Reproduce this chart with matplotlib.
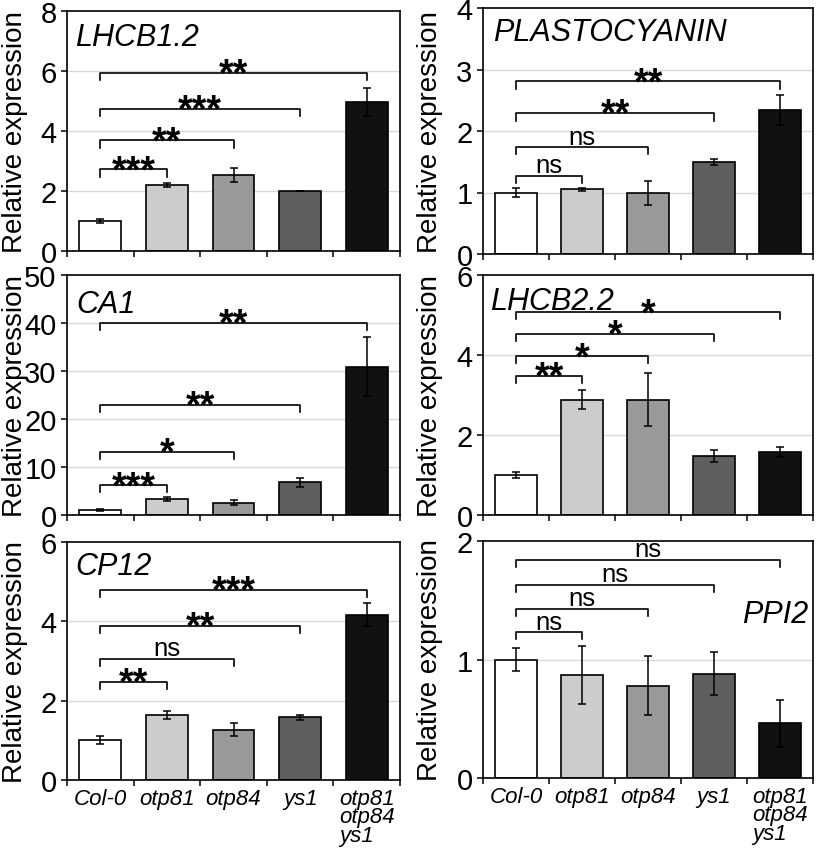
"""Relative expression of photosynthesis genes in otp81 / otp84 / ys1 mutants."""

# %% Imports
import matplotlib.pyplot as plt
import numpy as np

plt.rcParams["font.family"] = ["Liberation Sans", "DejaVu Sans"]

# %% Data
genotypes = ["Col-0", "otp81", "otp84", "ys1", "otp81\notp84\nys1"]
bar_colors = ["#ffffff", "#cccccc", "#999999", "#5f5f5f", "#111111"]

lhcb12_mean = [1.0, 2.2, 2.54, 2.0, 4.97]
lhcb12_err = [0.07, 0.08, 0.23, 0.01, 0.48]
lhcb12_sig = ["***", "**", "***", "**"]
lhcb12_bracket = [2.72, 3.69, 4.75, 5.95]

plasto_mean = [1.0, 1.05, 0.99, 1.5, 2.34]
plasto_err = [0.08, 0.02, 0.2, 0.05, 0.25]
plasto_sig = ["ns", "ns", "**", "**"]
plasto_bracket = [1.275, 1.74, 2.29, 2.81]

ca1_mean = [1.0, 3.3, 2.56, 6.8, 30.9]
ca1_err = [0.2, 0.35, 0.5, 1.0, 6.2]
ca1_sig = ["***", "*", "**", "**"]
ca1_bracket = [6.2, 13.2, 23.0, 40.1]

lhcb22_mean = [1.0, 2.88, 2.88, 1.48, 1.58]
lhcb22_err = [0.08, 0.24, 0.66, 0.15, 0.13]
lhcb22_sig = ["**", "*", "*", "*"]
lhcb22_bracket = [3.48, 3.97, 4.53, 5.07]

cp12_mean = [1.01, 1.64, 1.27, 1.58, 4.17]
cp12_err = [0.1, 0.09, 0.17, 0.06, 0.29]
cp12_sig = ["**", "ns", "**", "***"]
cp12_bracket = [2.48, 3.06, 3.88, 4.79]

ppi2_mean = [1.0, 0.87, 0.78, 0.88, 0.46]
ppi2_err = [0.1, 0.245, 0.25, 0.18, 0.2]
ppi2_sig = ["ns", "ns", "ns", "ns"]
ppi2_bracket = [1.23, 1.43, 1.63, 1.84]

# gene, mean, err, sig, bracket, ymax, ystep, axes rect in px (x0, y0, x1, y1), title pos
panels = [
    ("LHCB1.2", lhcb12_mean, lhcb12_err, lhcb12_sig, lhcb12_bracket, 8, 2,
     (67, 12, 400, 252), (0.024, 0.954, "left")),
    ("PLASTOCYANIN", plasto_mean, plasto_err, plasto_sig, plasto_bracket, 4, 1,
     (483, 9, 813, 255), (0.03, 0.963, "left")),
    ("CA1", ca1_mean, ca1_err, ca1_sig, ca1_bracket, 50, 10,
     (67, 276, 400, 516), (0.027, 0.94, "left")),
    ("LHCB2.2", lhcb22_mean, lhcb22_err, lhcb22_sig, lhcb22_bracket, 6, 2,
     (483, 276, 813, 516), (0.021, 0.954, "left")),
    ("CP12", cp12_mean, cp12_err, cp12_sig, cp12_bracket, 6, 2,
     (67, 543, 400, 781), (0.024, 0.962, "left")),
    ("PPI2", ppi2_mean, ppi2_err, ppi2_sig, ppi2_bracket, 2, 1,
     (483, 542, 813, 779), (0.985, 0.755, "right")),
]

# %% Figure
W, H = 817, 854
fig = plt.figure(figsize=(W / 100, H / 100), dpi=100)
x = np.arange(len(genotypes))

for i, (gene, mean, err, sig, bracket, ymax, ystep, rect, tpos) in enumerate(panels):
    x0, y0, x1, y1 = rect
    ax = fig.add_axes([x0 / W, 1 - y1 / H, (x1 - x0) / W, (y1 - y0) / H])

    ax.bar(x, mean, width=0.63, color=bar_colors, edgecolor="black",
           linewidth=1.2, zorder=2)
    ax.errorbar(x, mean, yerr=err, fmt="none", ecolor="black", elinewidth=1.1,
                capsize=2.8, capthick=1.1, zorder=3)

    ax.set_xlim(-0.5, 4.5)
    ax.set_ylim(0, ymax)
    ax.set_yticks(np.arange(0, ymax + ystep / 2, ystep))
    for yv in np.arange(ystep, ymax, ystep):
        ax.axhline(yv, color="#d9d9d9", linewidth=1, zorder=0)

    # significance brackets from Col-0 to each mutant
    tick = 0.03 * ymax
    for j, (lvl, s) in enumerate(zip(bracket, sig)):
        xr = j + 1
        ax.plot([0, 0, xr, xr], [lvl - tick, lvl, lvl, lvl - tick],
                color="black", linewidth=1.2, zorder=4)
        if s == "ns":
            ax.annotate(s, (xr / 2, lvl), xytext=(0, 2.5),
                        textcoords="offset points", ha="center",
                        va="baseline", fontsize=18.5)
        else:
            ax.annotate(s, (xr / 2, lvl), xytext=(0, -8.5),
                        textcoords="offset points", ha="center",
                        va="baseline", fontsize=27, fontweight="bold")

    ax.text(tpos[0], tpos[1], gene, transform=ax.transAxes, fontsize=22,
            fontstyle="italic", ha=tpos[2], va="top")

    for sp in ax.spines.values():
        sp.set_linewidth(1.2)
    ax.tick_params(axis="y", labelsize=21, length=4.5, width=1.1, pad=3)
    ax.set_xticks(np.arange(-0.5, 5, 1))
    ax.set_xticks(x, minor=True)
    ax.tick_params(axis="x", which="major", length=4.5, width=1.1,
                   labelbottom=False)
    ax.tick_params(axis="x", which="minor", length=0, pad=5.5)
    if i >= 4:
        ax.set_xticklabels(genotypes, minor=True, fontsize=16,
                           fontstyle="italic", linespacing=0.85)
        for lab in ax.get_xticklabels(minor=True):
            lab.set_multialignment("left")

    ax.set_ylabel("Relative expression", fontsize=20)
    ax.yaxis.set_label_coords(-0.117 if i % 2 == 0 else -0.121, 0.5)

fig.savefig("out.png", dpi=100)
